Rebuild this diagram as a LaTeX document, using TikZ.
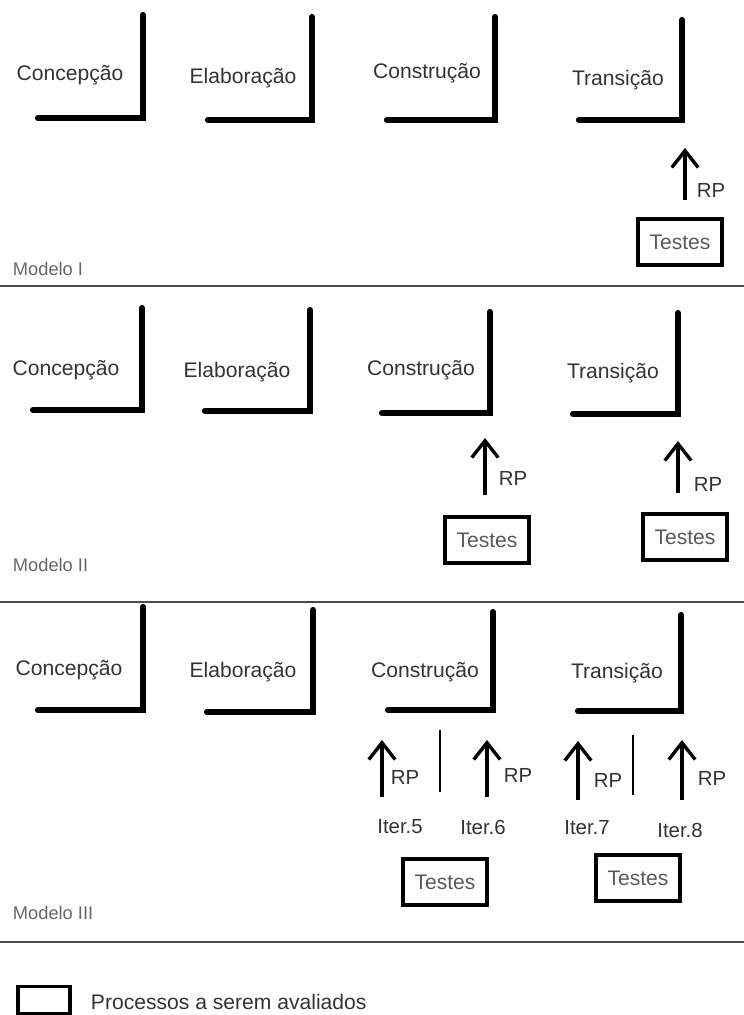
\documentclass[tikz,border=0pt]{standalone}
\usepackage{fontspec}
\setmainfont{Liberation Sans}
\usetikzlibrary{arrows.meta}
\tikzset{
  phase/.style={font=\fontsize{15}{17}\selectfont, text=black!80},
  corner/.style={line width=4.4pt, line cap=round, line join=miter},
  rp/.style={-{Straight Barb[length=4.2mm,width=6.6mm,line width=2.4pt]}, line width=2.8pt},
  lbl/.style={font=\fontsize{14.5}{16}\selectfont, text=black!80},
  testbox/.style={draw, line width=2.6pt, inner sep=0pt, minimum width=2.1cm, minimum height=1.15cm,
    font=\fontsize{15}{17}\selectfont, text=black!65},
  modelo/.style={font=\fontsize{13}{15}\selectfont, text=black!60, anchor=west},
  sep/.style={line width=0.9pt, black!70}
}

\begin{document}
\begin{tikzpicture}[x=0.025cm, y=-0.025cm]
    \useasboundingbox (0,0) rectangle (744,1015);
    % Modelo I
    \node[phase] (conc1) at (70, 75) {Concepção};
    \node[phase] (elab1) at (243, 78) {Elaboração};
    \node[phase] (cons1) at (427, 73) {Construção};
    \node[phase] (tran1) at (618, 80) {Transição};
    \draw[corner] (143, 15) |- (38, 118);
    \draw[corner] (312, 17) |- (208, 120);
    \draw[corner] (495, 17) |- (387, 120);
    \draw[corner] (682, 20) |- (579, 120);
    \node[testbox] (tst1) at (680, 242) {Testes};
    \coordinate (p1a) at (685, 200);
    \coordinate (p1b) at (685, 148);
    \draw[rp] (p1a) -- (p1b);
    \node[lbl] (rp1) at (711, 190) {RP};
    \node[modelo] (mod1) at (8, 269) {Modelo I};
    \draw[sep] (0, 286) -- (744, 286);
    % Modelo II
    \node[phase] (conc2) at (66, 370) {Concepção};
    \node[phase] (elab2) at (237, 372) {Elaboração};
    \node[phase] (cons2) at (421, 370) {Construção};
    \node[phase] (tran2) at (613, 373) {Transição};
    \draw[corner] (142, 308) |- (33, 410);
    \draw[corner] (310, 310) |- (205, 411);
    \draw[corner] (490, 312) |- (382, 413);
    \draw[corner] (678, 313) |- (573, 414);
    \node[testbox] (tst2a) at (487, 540) {Testes};
    \node[testbox] (tst2b) at (685, 537) {Testes};
    \coordinate (p2a) at (485, 495);
    \coordinate (p2b) at (485, 438);
    \coordinate (p2c) at (678, 493);
    \coordinate (p2d) at (678, 441);
    \draw[rp] (p2a) -- (p2b);
    \draw[rp] (p2c) -- (p2d);
    \node[lbl] (rp2a) at (513, 478) {RP};
    \node[lbl] (rp2b) at (708, 484) {RP};
    \node[modelo] (mod2) at (8, 565) {Modelo II};
    \draw[sep] (0, 602) -- (744, 602);
    % Modelo III
    \node[phase] (conc3) at (69, 670) {Concepção};
    \node[phase] (elab3) at (243, 672) {Elaboração};
    \node[phase] (cons3) at (425, 672) {Construção};
    \node[phase] (tran3) at (617, 673) {Transição};
    \draw[corner] (143, 607) |- (38, 710);
    \draw[corner] (313, 610) |- (207, 712);
    \draw[corner] (493, 612) |- (388, 710);
    \draw[corner] (681, 615) |- (578, 711);
    \coordinate (p3a) at (382, 797);
    \coordinate (p3b) at (382, 740);
    \coordinate (p3c) at (487, 797);
    \coordinate (p3d) at (487, 740);
    \coordinate (p3e) at (578, 800);
    \coordinate (p3f) at (578, 741);
    \coordinate (p3g) at (682, 800);
    \coordinate (p3h) at (682, 740);
    \draw[rp] (p3a) -- (p3b);
    \draw[rp] (p3c) -- (p3d);
    \draw[rp] (p3e) -- (p3f);
    \draw[rp] (p3g) -- (p3h);
    \draw[line width=1.8pt] (440, 730) -- (440, 792);
    \draw[line width=1.8pt] (633, 735) -- (633, 795);
    \node[lbl] (rp3a) at (405, 777) {RP};
    \node[lbl] (rp3b) at (518, 775) {RP};
    \node[lbl] (rp3c) at (608, 780) {RP};
    \node[lbl] (rp3d) at (712, 778) {RP};
    \node[lbl] (it5) at (400, 827) {Iter.5};
    \node[lbl] (it6) at (483, 827) {Iter.6};
    \node[lbl] (it7) at (587, 828) {Iter.7};
    \node[lbl] (it8) at (680, 830) {Iter.8};
    \node[testbox] (tst3a) at (445, 882) {Testes};
    \node[testbox] (tst3b) at (638, 878) {Testes};
    \node[modelo] (mod3) at (8, 913) {Modelo III};
    \draw[sep] (0, 942) -- (744, 942);
    % legenda
    \node[draw, line width=2.4pt, minimum width=1.3cm, minimum height=0.68cm] (leg) at (44, 1000) {};
    \node[phase, anchor=west] (legtxt) at (86, 1002) {Processos a serem avaliados};
\end{tikzpicture}
\end{document}
